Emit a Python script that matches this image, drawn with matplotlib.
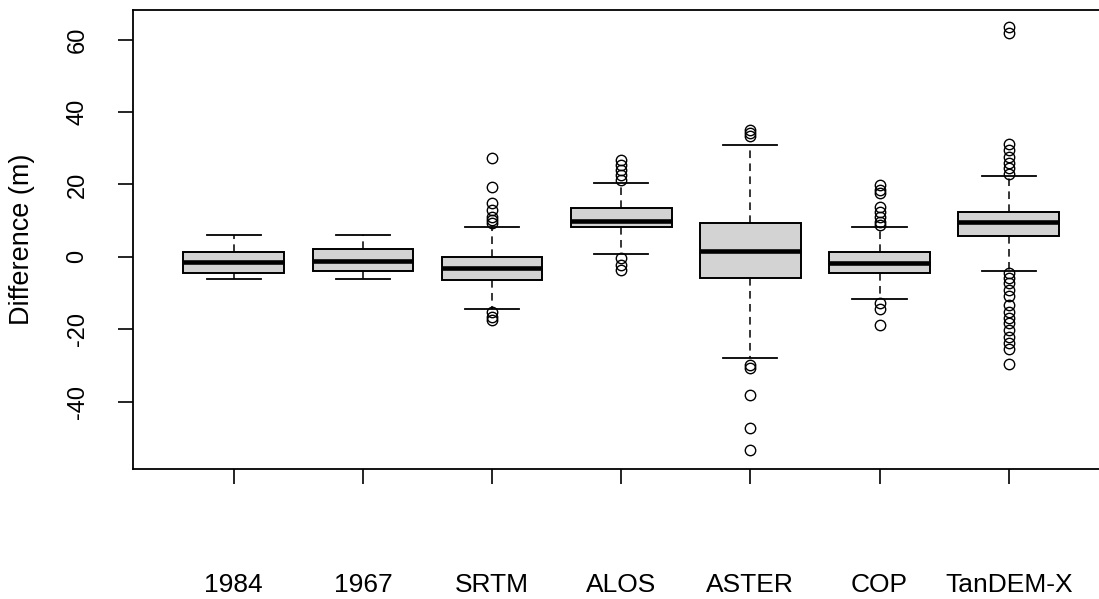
import matplotlib
matplotlib.use("Agg")
import matplotlib.pyplot as plt

plt.rcParams['font.family'] = ['Liberation Sans', 'DejaVu Sans']

labels = ["1984", "1967", "SRTM", "ALOS", "ASTER", "COP", "TanDEM-X"]
med = [-1.5, -1.1, -3.2, 10.0, 1.7, -1.8, 9.6]
q1 = [-4.4, -3.9, -6.4, 8.1, -5.8, -4.4, 5.7]
q3 = [1.3, 2.1, 0.0, 13.4, 9.2, 1.2, 12.4]
whislo = [-6.1, -6.1, -14.5, 0.7, -28.1, -11.8, -3.9]
whishi = [5.9, 5.9, 8.1, 20.3, 31.0, 8.1, 22.3]
fliers = [
    [],
    [],
    [27.2, 19.3, 14.8, 12.9, 11.0, 10.2, 9.3, -15.2, -16.6, -17.4],
    [26.7, 25.3, 23.9, 22.5, 21.2, -0.4, -2.3, -3.7],
    [35.0, 34.3, 33.3, -29.9, -30.8, -38.2, -47.4, -53.4],
    [19.8, 18.5, 17.5, 13.8, 12.4, 11.0, 9.7, 8.8, -12.9, -14.3, -18.9],
    [63.5, 61.9, 31.3, 29.5, 27.6, 25.8, 24.4, 23.0,
     -4.6, -5.9, -7.3, -9.2, -10.8, -13.3, -15.3, -16.9, -18.3,
     -20.2, -22.1, -23.7, -25.6, -29.5],
]

stats = []
for i in range(len(labels)):
    stats.append(dict(med=med[i], q1=q1[i], q3=q3[i], whislo=whislo[i],
                      whishi=whishi[i], fliers=fliers[i], label=labels[i]))

fig = plt.figure(figsize=(10.99, 5.99), dpi=100)
ax = fig.add_axes([0.121, 0.217, 0.8885, 0.766])

ax.bxp(stats, positions=range(1, 8), widths=0.78, patch_artist=True,
       boxprops=dict(facecolor='#d3d3d3', edgecolor='black', linewidth=1.4),
       medianprops=dict(color='black', linewidth=3.3),
       whiskerprops=dict(color='black', linewidth=1.1, linestyle=(0, (5, 3.5))),
       capprops=dict(color='black', linewidth=1.3),
       capwidths=0.42,
       flierprops=dict(marker='o', markerfacecolor='none', markeredgecolor='black',
                       markersize=7.5, markeredgewidth=1.0))

ax.set_xlim(0.22, 7.78)
ax.set_ylim(-58.65, 68.15)
ax.set_yticks([-40, -20, 0, 20, 40, 60])
ax.set_yticklabels(['-40', '-20', '0', '20', '40', '60'], rotation=90, va='center')
ax.set_xticks(range(1, 8))
ax.set_xticklabels(labels, fontsize=19)
ax.tick_params(axis='x', length=11, width=1.2, pad=64, colors='black')
ax.tick_params(axis='y', length=11, width=1.2, pad=21, labelsize=17)
for s in ax.spines.values():
    s.set_linewidth(1.3)
ax.set_ylabel("Difference (m)", fontsize=19.5)
ax.yaxis.set_label_coords(-0.1, 0.5)

fig.savefig("out.png", dpi=100)
